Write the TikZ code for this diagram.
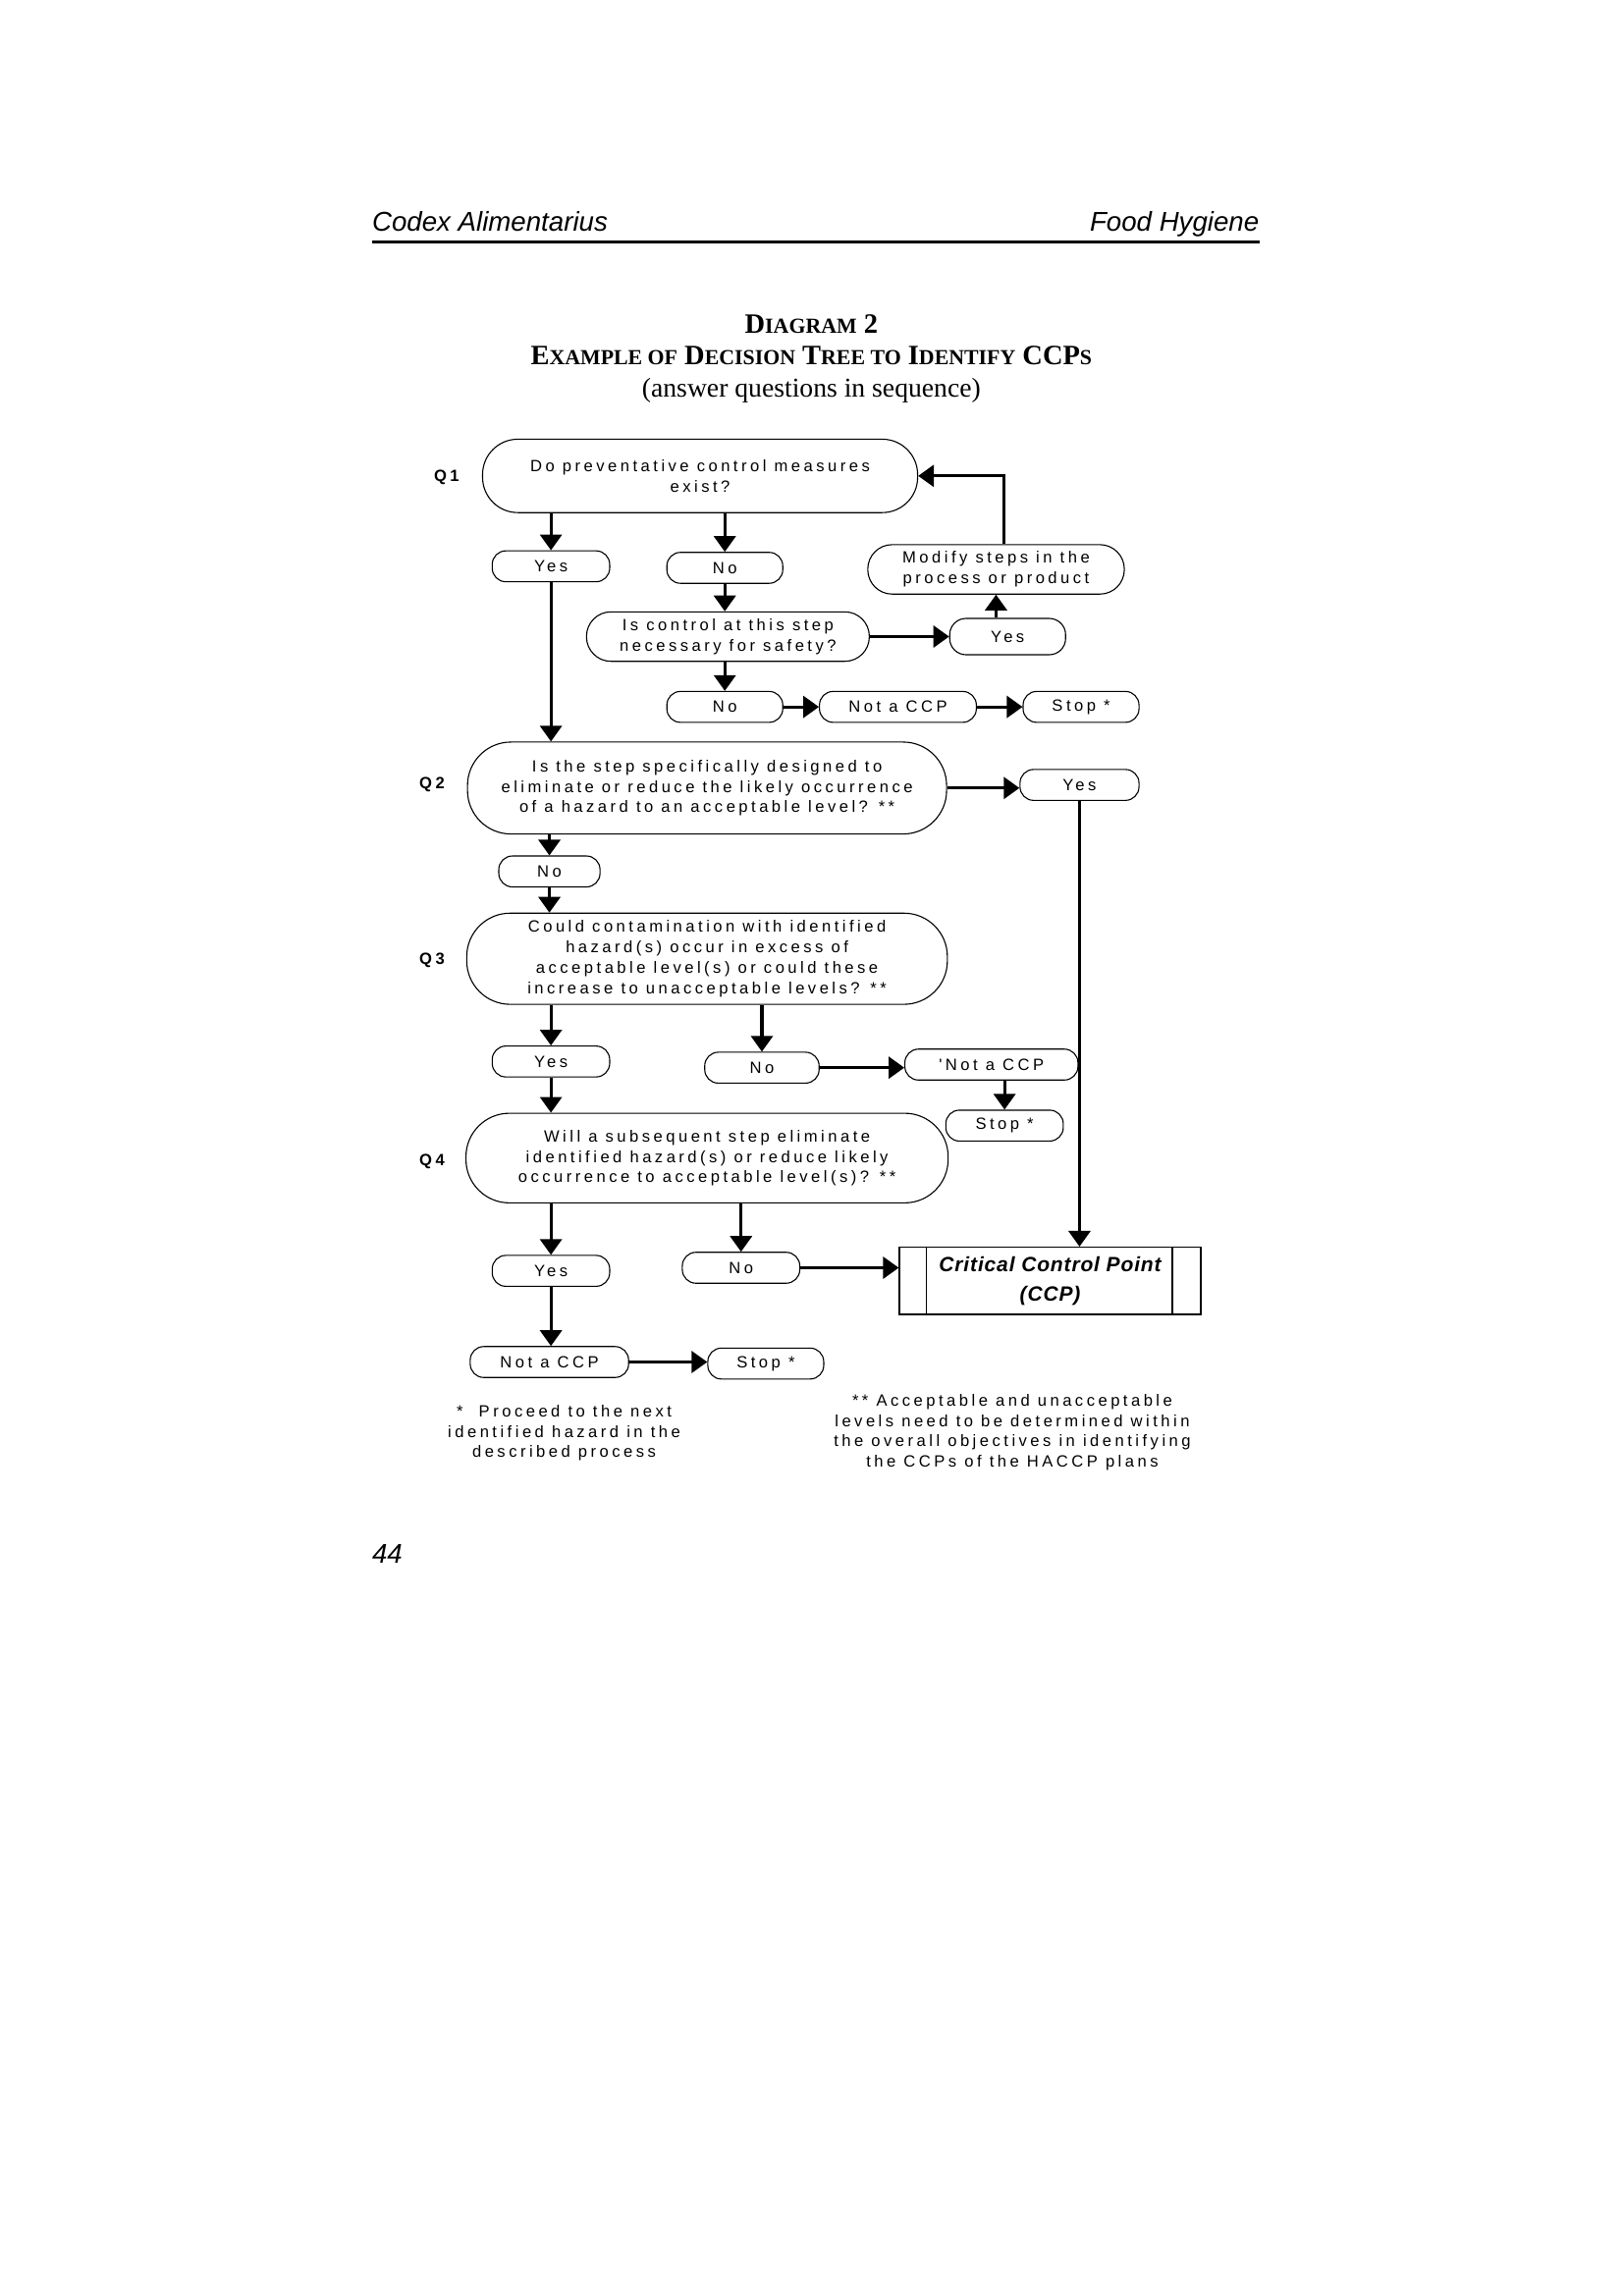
\documentclass[tikz,border=0pt]{standalone}
\usepackage{fontspec}
\setmainfont{Liberation Serif}
\setsansfont{Liberation Sans}
\newfontfamily\chartfamily[LetterSpace=21]{Liberation Sans}
\newfontfamily\ccpfamily[LetterSpace=4]{Liberation Sans}
\usepackage{tikz}
\usetikzlibrary{positioning, arrows.meta}
\newcommand{\chart}{\chartfamily\fontsize{6}{7.5}\selectfont}
\newcommand{\sctext}[1]{{\fontsize{7.9}{10}\selectfont #1}}

\begin{document}
\begin{tikzpicture}[every node/.style={font=\chart},
    pill/.style={draw, line width=0.4pt, rounded corners=5pt, inner sep=0pt, minimum height=0.4cm},
    question/.style={draw, line width=0.4pt, align=center, inner sep=0pt},
    arr/.style={-{Triangle[length=5.8pt, width=8pt]}, line width=1.1pt},
    qlabel/.style={font=\chart\bfseries},
    pagefont/.style={font=\sffamily\itshape\fontsize{10}{12}\selectfont, inner sep=0pt}]
    \useasboundingbox (0,0) rectangle (21.0,-29.72);

    % Page header
    \node[pagefont, anchor=base west] (codex) at (4.81,-2.99) {Codex Alimentarius};
    \node[pagefont, anchor=base east] (hygiene) at (16.30,-2.99) {Food Hygiene};
    \draw[line width=1.2pt] (4.81,-3.13) -- (16.30,-3.13);

    % Title
    \node[align=center, font=\rmfamily\fontsize{10}{11.8}\selectfont] (title) at (10.50,-4.64)
        {{\bfseries\fontsize{10.3}{11.8}\selectfont D\sctext{IAGRAM} 2}\\
         {\bfseries\fontsize{10.3}{11.8}\selectfont E\sctext{XAMPLE OF} D\sctext{ECISION} T\sctext{REE TO} I\sctext{DENTIFY} CCP\sctext{S}}\\
         (answer questions in sequence)};

    % Question labels
    \node[qlabel] (lq1) at (5.78,-6.18) {Q1};
    \node[qlabel] (lq2) at (5.59,-10.16) {Q2};
    \node[qlabel] (lq3) at (5.59,-12.43) {Q3};
    \node[qlabel] (lq4) at (5.59,-15.03) {Q4};

    % Q1 block
    \node[question, rounded corners=13pt, minimum width=5.63cm, minimum height=0.95cm] (q1) at (9.06,-6.16)
        {Do preventative control measures\\exist?};
    \node[pill, minimum width=1.52cm] (yesA) at (7.13,-7.33) {Yes};
    \node[pill, minimum width=1.50cm] (noA) at (9.38,-7.35) {No};
    \node[question, rounded corners=9pt, minimum width=3.32cm, minimum height=0.64cm] (modify) at (12.89,-7.37)
        {Modify steps in the\\process or product};
    \node[question, rounded corners=9pt, minimum width=3.66cm, minimum height=0.64cm] (ctrl) at (9.42,-8.24)
        {Is control at this step\\necessary for safety?};
    \node[pill, minimum width=1.50cm, minimum height=0.47cm, rounded corners=6pt] (yesB) at (13.04,-8.24) {Yes};
    \node[pill, minimum width=1.50cm] (noB) at (9.38,-9.15) {No};
    \node[pill, minimum width=2.03cm] (notA) at (11.62,-9.15) {Not a CCP};
    \node[pill, minimum width=1.50cm] (stopA) at (13.99,-9.15) {Stop *};

    % Q2 block
    \node[question, rounded corners=16pt, minimum width=6.20cm, minimum height=1.19cm] (q2) at (9.15,-10.20)
        {Is the step specifically designed to\\eliminate or reduce the likely occurrence\\of a hazard to an acceptable level? **};
    \node[pill, minimum width=1.54cm] (yesC) at (13.97,-10.16) {Yes};
    \node[pill, minimum width=1.31cm] (noC) at (7.11,-11.28) {No};

    % Q3 block
    \node[question, rounded corners=16pt, minimum width=6.22cm, minimum height=1.18cm] (q3) at (9.15,-12.41)
        {Could contamination with identified\\hazard(s) occur in excess of\\acceptable level(s) or could these\\increase to unacceptable levels? **};
    \node[pill, minimum width=1.52cm] (yesD) at (7.13,-13.74) {Yes};
    \node[pill, minimum width=1.48cm] (noD) at (9.86,-13.82) {No};
    \node[pill, minimum width=2.24cm] (notB) at (12.83,-13.78) {'Not a CCP};
    \node[pill, minimum width=1.52cm] (stopB) at (13.00,-14.57) {Stop *};

    % Q4 block
    \node[question, rounded corners=16pt, minimum width=6.24cm, minimum height=1.16cm] (q4) at (9.15,-14.99)
        {Will a subsequent step eliminate\\identified hazard(s) or reduce likely\\occurrence to acceptable level(s)? **};
    \node[pill, minimum width=1.52cm] (yesE) at (7.13,-16.45) {Yes};
    \node[pill, minimum width=1.52cm] (noE) at (9.59,-16.41) {No};
    \node[draw, line width=0.5pt, minimum width=3.90cm, minimum height=0.87cm, align=center,
        font=\ccpfamily\bfseries\itshape\fontsize{7.6}{10.7}\selectfont] (ccp) at (13.59,-16.58)
        {Critical Control Point\\(CCP)};
    \draw[line width=0.5pt] ([xshift=0.36cm]ccp.north west) -- ([xshift=0.36cm]ccp.south west);
    \draw[line width=0.5pt] ([xshift=-0.38cm]ccp.north east) -- ([xshift=-0.38cm]ccp.south east);
    \node[pill, minimum width=2.05cm] (notC) at (7.11,-17.63) {Not a CCP};
    \node[pill, minimum width=1.50cm] (stopC) at (9.91,-17.65) {Stop *};

    % Footnotes
    \node[align=center] (fnA) at (7.30,-18.55)
        {*~~Proceed to the next\\identified hazard in the\\described process};
    \node[align=center] (fnB) at (13.10,-18.54)
        {** Acceptable and unacceptable\\levels need to be determined within\\the overall objectives in identifying\\the CCPs of the HACCP plans};

    % Page number
    \node[pagefont, anchor=west] (pagenum) at (4.81,-20.11) {44};

    % Connectors
    \draw[arr] (q1.south -| yesA) -- (yesA.north);
    \draw[arr] (q1.south -| noA) -- (noA.north);
    \draw[arr] (noA.south) -- (noA.south |- ctrl.north);
    \draw[arr] (ctrl.east) -- (ctrl.east -| yesB.west);
    \draw[arr] (yesB.north -| modify) -- (modify.south);
    \draw[arr] ([xshift=0.1cm]modify.north) |- (q1.east);
    \draw[arr] (ctrl.south -| noB) -- (noB.north);
    \draw[arr] (noB.east) -- (notA.west);
    \draw[arr] (notA.east) -- (stopA.west);

    \draw[arr] (yesA.south) -- (yesA.south |- q2.north);
    \draw[arr] (q2.east) -- (q2.east -| yesC.west);
    \draw[arr] (yesC.south) -- (yesC.south |- ccp.north);
    \draw[arr] (q2.south -| noC) -- (noC.north);
    \draw[arr] (noC.south) -- (noC.south |- q3.north);

    \draw[arr] (q3.south -| yesD) -- (yesD.north);
    \draw[arr] (q3.south -| noD) -- (noD.north);
    \draw[arr] (noD.east) -- (noD.east -| notB.west);
    \draw[arr] (notB.south -| stopB) -- (stopB.north);
    \draw[arr] (yesD.south) -- (yesD.south |- q4.north);

    \draw[arr] (q4.south -| yesE) -- (yesE.north);
    \draw[arr] (q4.south -| noE) -- (noE.north);
    \draw[arr] (noE.east) -- (noE.east -| ccp.west);
    \draw[arr] (yesE.south) -- (yesE.south |- notC.north);
    \draw[arr] (notC.east) -- (notC.east -| stopC.west);
\end{tikzpicture}
\end{document}
